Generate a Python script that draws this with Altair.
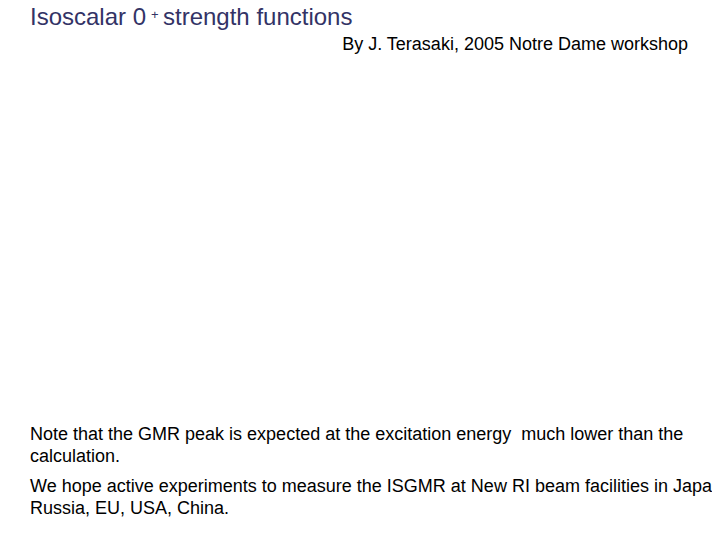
import altair as alt
import pandas as pd

title_parts = ["Isoscalar 0", "+", "strength functions"]
byline = ["By J. Terasaki, 2005 Notre Dame workshop"]
notes = [
    "Note that the GMR peak is expected at the excitation energy\u00a0 much lower than the",
    "calculation.",
    "We hope active experiments to measure the ISGMR at New RI beam facilities in Japan,",
    "Russia, EU, USA, China.",
]

FONT = "Liberation Sans"
W, H = 704, 524

def txt(s, x, y, size, color="#000000", align="left", clip=False):
    return alt.Chart(pd.DataFrame({"t": [s]})).mark_text(
        font=FONT, fontSize=size, color=color, align=align,
        baseline="alphabetic", clip=clip
    ).encode(text="t:N", x=alt.value(x), y=alt.value(y))

layers = [
    txt(title_parts[0], 22, 17, 24, "#333366"),
    txt(title_parts[1], 143, 11, 13, "#333366"),
    txt(title_parts[2], 155, 17, 24, "#333366"),
    txt(byline[0], 680, 42, 18, align="right"),
]
note_y = [432, 454, 484, 506]
for s, y in zip(notes, note_y):
    layers.append(txt(s, 22, y, 18, clip=True))

chart = alt.layer(*layers).properties(
    width=W, height=H, padding=0, autosize=alt.AutoSizeParams(type="none")
).configure_view(stroke=None)

chart.save("out.html", embed_options={"renderer": "svg", "actions": False})
